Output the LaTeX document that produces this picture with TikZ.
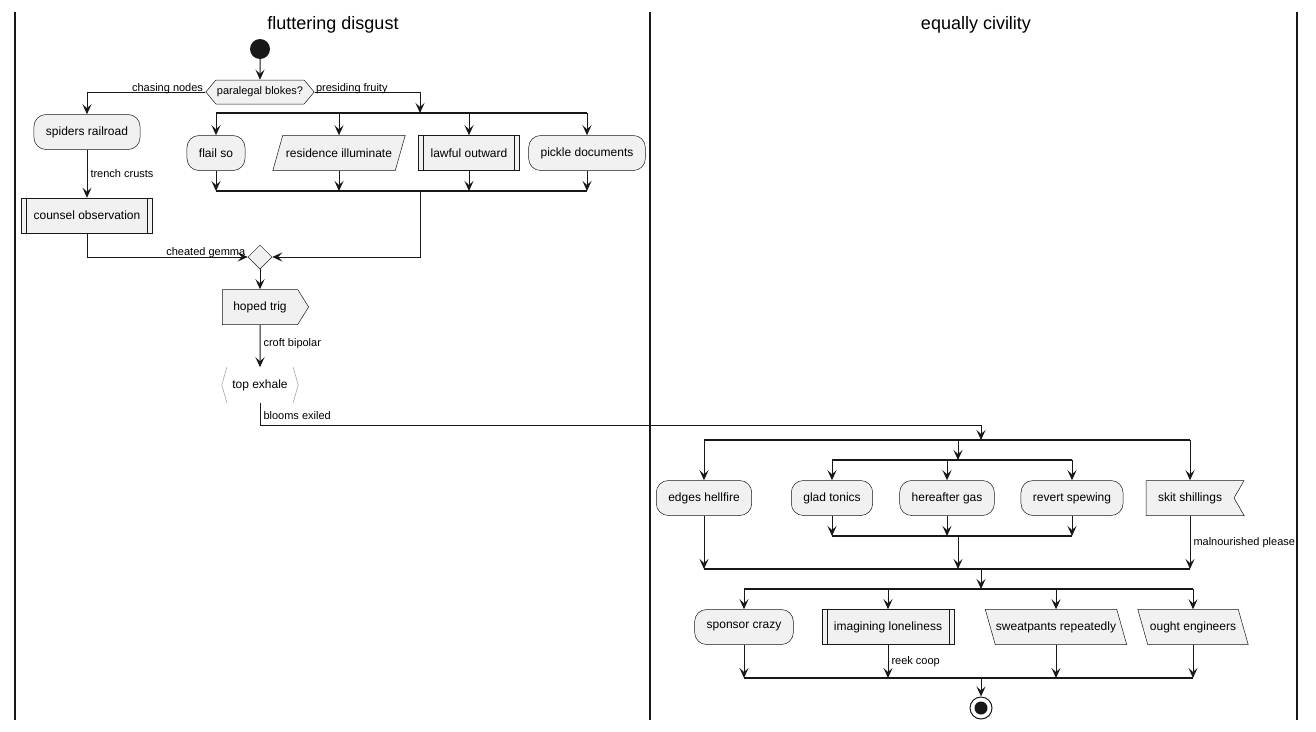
\documentclass[tikz,border=0pt]{standalone}
\usepackage{fontspec}
\setmainfont{Liberation Sans}
\usepackage{tikz}
\usetikzlibrary{arrows.meta}
\usetikzlibrary{positioning}
\usetikzlibrary{shapes.geometric}
\usetikzlibrary{shapes.symbols}
\usetikzlibrary{backgrounds}
\definecolor{boxfill}{HTML}{F1F1F1}
\definecolor{ink}{HTML}{181818}
\tikzstyle{every node}+=[inner sep=0pt]
\tikzstyle{nodefont} = [font=\fontsize{12}{14}\selectfont]
\tikzstyle{boxed} = [draw=ink, fill=boxfill, line width=0.5pt, nodefont, minimum height=35pt]
\tikzstyle{act} = [boxed, rectangle, rounded corners=12pt, inner xsep=12pt]
\tikzstyle{sub} = [boxed, rectangle, inner xsep=12pt, path picture={
    \draw[ink, line width=0.5pt] ([xshift=5pt]path picture bounding box.north west) -- ([xshift=5pt]path picture bounding box.south west);
    \draw[ink, line width=0.5pt] ([xshift=-5pt]path picture bounding box.north east) -- ([xshift=-5pt]path picture bounding box.south east);}]
\tikzstyle{iotext} = [nodefont, rectangle, minimum height=35pt, inner xsep=7pt]
\tikzstyle{ioshape} = [draw=ink, fill=boxfill, line width=0.5pt]
\tikzstyle{sendbox} = [boxed, signal, signal to=east, signal pointer angle=116, inner xsep=11pt]
\tikzstyle{flagbox} = [boxed, signal, signal to=nowhere, signal from=east, signal pointer angle=120, inner xsep=12pt]
\tikzstyle{choice} = [boxed, signal, signal to=west and east, signal pointer angle=100, minimum height=24pt, inner xsep=1pt, font=\fontsize{11}{13}\selectfont]
\tikzstyle{merge} = [diamond, draw=ink, fill=boxfill, line width=0.5pt, minimum width=24pt, minimum height=24pt]
\tikzstyle{plain} = [nodefont, minimum width=76pt, minimum height=35pt]
\tikzstyle{chev} = [draw=black!35, line width=0.6pt]
\tikzstyle{startdot} = [circle, fill=ink, minimum size=20pt]
\tikzstyle{stopdot} = [circle, draw=ink, fill=white, line width=1pt, minimum size=22pt, path picture={\fill[ink] (path picture bounding box.center) circle (6.5pt);}]
\tikzstyle{line} = [draw=ink, line width=1pt, ->]
\tikzstyle{bar} = [draw=ink, line width=1.8pt]
\tikzstyle{lane} = [draw=ink, line width=1.5pt]
\tikzstyle{title} = [font=\fontsize{18}{22}\selectfont]
\tikzstyle{lbl} = [font=\fontsize{11}{13}\selectfont]

\begin{document}
\begin{tikzpicture}[x=1pt, y=-1pt, >={Stealth[length=10pt, width=9pt, inset=4pt]}]
            \useasboundingbox (0,0) rectangle (1316,731);
            % Swimlanes
            \draw[lane] (15,12) -- (15,720);
            \draw[lane] (650,12) -- (650,720);
            \draw[lane] (1297,12) -- (1297,720);
            \node[title] (tl) at (333,25) {fluttering disgust};
            \node[title] (tr) at (976,25) {equally civility};
            % Place nodes
            \node[startdot] (start) at (260,49) {};
            \node[choice] (q) at (260,92) {paralegal blokes?};
            \node[act] (sr) at (87,132) {spiders railroad};
            \node[sub, below=48pt of sr] (co) {counsel observation};
            \node[act] (fs) at (216,153) {flail so};
            \node[iotext, inner xsep=8pt] (ri) at (339,153) {residence illuminate};
            \node[sub] (lo) at (469,153) {lawful outward};
            \node[act] (pd) at (587,153) {pickle documents};
            \node[merge] (mg) at (260,257) {};
            \node[sendbox] (ht) at (260,307) {hoped trig};
            \node[plain, below=42.5pt of ht] (te) {top exhale};
            \draw[chev] ([xshift=5pt]te.north west) -- (te.west) -- ([xshift=5pt]te.south west);
            \draw[chev] ([xshift=-5pt]te.north east) -- (te.east) -- ([xshift=-5pt]te.south east);
            \node[act] (eh) at (704,498) {edges hellfire};
            \node[act] (gt) at (832,498) {glad tonics};
            \node[act] (hg) at (947,498) {hereafter gas};
            \node[act] (rs) at (1072,498) {revert spewing};
            \node[flagbox] (ss) at (1190,498) {skit shillings};
            \node[act] (sc) at (744,627) {sponsor crazy};
            \node[sub] (il) at (888,627) {imagining loneliness};
            \node[iotext, inner xsep=5.5pt] (sw) at (1056,627) {sweatpants repeatedly};
            \node[iotext] (oe) at (1193,627) {ought engineers};
            \node[stopdot] (stop) at (981,708) {};
            % Slanted boxes
            \begin{scope}[on background layer]
            \filldraw[ioshape] ([xshift=5pt]ri.north west) -- ([xshift=5pt]ri.north east) -- ([xshift=-5pt]ri.south east) -- ([xshift=-5pt]ri.south west) -- cycle;
            \filldraw[ioshape] ([xshift=-5pt]sw.north west) -- ([xshift=-5pt]sw.north east) -- ([xshift=5pt]sw.south east) -- ([xshift=5pt]sw.south west) -- cycle;
            \filldraw[ioshape] ([xshift=-5pt]oe.north west) -- ([xshift=-5pt]oe.north east) -- ([xshift=5pt]oe.south east) -- ([xshift=5pt]oe.south west) -- cycle;
            \end{scope}
            % Fork and join points
            \coordinate (f1) at (420,113);
            \coordinate (j1) at (420,191);
            \coordinate (bend) at (981,425);
            \coordinate (f2) at (981,440);
            \coordinate (f3) at (958,460);
            \coordinate (j3) at (958,536);
            \coordinate (j2) at (981,569);
            \coordinate (f4) at (981,589);
            \coordinate (j4) at (981,678);
            \draw[bar] (fs |- f1) -- (pd |- f1);
            \draw[bar] (fs |- j1) -- (pd |- j1);
            \draw[bar] (eh |- f2) -- (ss |- f2);
            \draw[bar] (gt |- f3) -- (rs |- f3);
            \draw[bar] (gt |- j3) -- (rs |- j3);
            \draw[bar] (eh |- j2) -- (ss |- j2);
            \draw[bar] (sc |- f4) -- (oe |- f4);
            \draw[bar] (sc |- j4) -- (oe |- j4);
            % Draw edges
            \path[line] (start) -- (q);
            \path[line] (q.west) -| (sr) node[lbl, pos=0, anchor=base east, xshift=-2pt, yshift=1pt] {chasing nodes};
            \path[line] (q.east) -| (f1) node[lbl, pos=0, anchor=base west, xshift=1pt, yshift=1pt] {presiding fruity};
            \path[line] (sr) -- (co) node[lbl, midway, anchor=west, xshift=3pt] {trench crusts};
            \foreach \n in {fs,ri,lo,pd} \path[line] (\n |- f1) -- (\n);
            \foreach \n in {fs,ri,lo,pd} \path[line] (\n) -- (\n |- j1);
            \path[line] (co) |- (mg) node[lbl, pos=1, anchor=base east, xshift=-2pt, yshift=2pt] {cheated gemma};
            \path[line] (j1) |- (mg);
            \path[line] (mg) -- (ht);
            \path[line] (ht) -- (te) node[lbl, midway, anchor=west, xshift=3pt, yshift=2pt] {croft bipolar};
            \path[line] (te) |- (bend) node[lbl, pos=0.5, anchor=base west, xshift=3pt, yshift=6pt] {blooms exiled} -- (f2);
            \path[line] (eh |- f2) -- (eh);
            \path[line] (ss |- f2) -- (ss);
            \path[line] (f3 |- f2) -- (f3);
            \foreach \n in {gt,hg,rs} \path[line] (\n |- f3) -- (\n);
            \foreach \n in {gt,hg,rs} \path[line] (\n) -- (\n |- j3);
            \path[line] (eh) -- (eh |- j2);
            \path[line] (j3) -- (j3 |- j2);
            \path[line] (ss) -- (ss |- j2) node[lbl, midway, anchor=west, xshift=3pt] {malnourished please};
            \path[line] (j2) -- (f4);
            \foreach \n in {sc,il,sw,oe} \path[line] (\n |- f4) -- (\n);
            \foreach \n in {sc,sw,oe} \path[line] (\n) -- (\n |- j4);
            \path[line] (il) -- (il |- j4) node[lbl, midway, anchor=west, xshift=3pt] {reek coop};
            \path[line] (j4) -- (stop);
          \end{tikzpicture}
\end{document}
